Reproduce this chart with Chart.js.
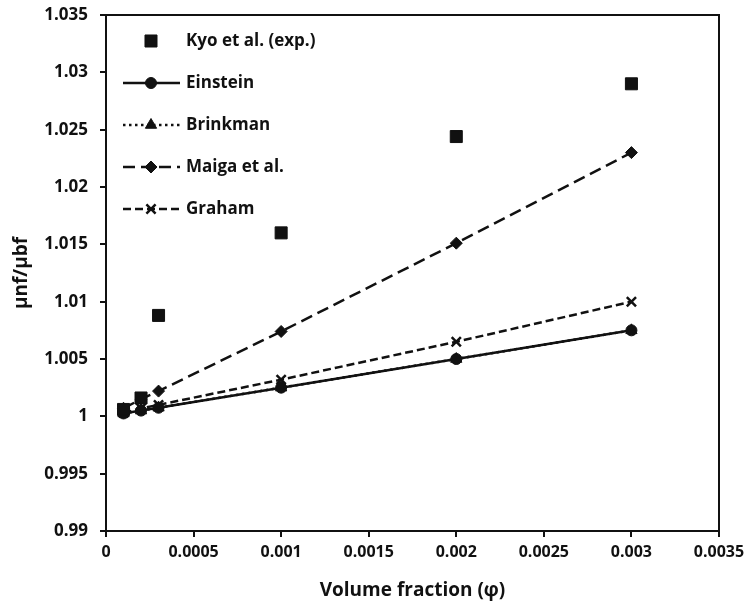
<!DOCTYPE html>
<html>
<head>
<meta charset="utf-8">
<script src="https://cdn.jsdelivr.net/npm/chart.js@4"></script>
<style>
  html, body { margin: 0; padding: 0; background: #fff; }
  #wrap { width: 753px; height: 606px; }
</style>
</head>
<body>
<div id="wrap"><canvas id="chart" width="753" height="606"></canvas></div>
<script>
const phi = [0.0001, 0.0002, 0.0003, 0.001, 0.002, 0.003]
const kyoExp = [1.0006, 1.0016, 1.0088, 1.0160, 1.0244, 1.0290]
const einstein = [1.00025, 1.0005, 1.00075, 1.0025, 1.005, 1.0075]
const brinkman = [1.00025, 1.0005, 1.00075, 1.0025, 1.005, 1.0075]
const maiga = [1.0007, 1.0015, 1.0022, 1.0074, 1.0151, 1.0230]
const graham = [1.0003, 1.0007, 1.0010, 1.0032, 1.0065, 1.0100]

const xTicks = [0, 0.0005, 0.001, 0.0015, 0.002, 0.0025, 0.003, 0.0035]
const yTicks = [0.99, 0.995, 1, 1.005, 1.01, 1.015, 1.02, 1.025, 1.03, 1.035]

const FONT = '"Open Sans", Lato, sans-serif'

function pts(ys) {
  return phi.map((x, i) => ({ x: x, y: ys[i] }))
}

// box round the plot area
const frame = {
  id: 'frame',
  afterDraw(chart) {
    const { ctx, chartArea: a } = chart
    ctx.save()
    ctx.strokeStyle = '#111'
    ctx.lineWidth = 2
    ctx.beginPath()
    ctx.moveTo(a.left, a.top)
    ctx.lineTo(a.right, a.top)
    ctx.lineTo(a.right, a.bottom)
    ctx.stroke()
    ctx.restore()
  }
}

// legend inside the plot, line sample with marker in the middle
const innerLegend = {
  id: 'innerLegend',
  afterDraw(chart) {
    const ctx = chart.ctx
    ctx.save()
    ctx.font = 'bold 17px ' + FONT
    ctx.textBaseline = 'middle'
    chart.data.datasets.forEach((ds, i) => {
      const y = 41 + i * 42
      if (ds.showLine !== false) {
        ctx.strokeStyle = ds.borderColor
        ctx.lineWidth = ds.borderWidth
        ctx.setLineDash(ds.borderDash || [])
        ctx.beginPath()
        ctx.moveTo(123, y)
        ctx.lineTo(180, y)
        ctx.stroke()
        ctx.setLineDash([])
      }
      ctx.fillStyle = ds.pointBackgroundColor
      ctx.strokeStyle = ds.pointBorderColor
      ctx.lineWidth = ds.pointBorderWidth
      Chart.helpers.drawPoint(ctx, {
        pointStyle: ds.pointStyle,
        radius: ds.pointRadius,
        rotation: 0,
        borderWidth: ds.pointBorderWidth
      }, 151, y)
      ctx.fillStyle = '#111'
      ctx.fillText(ds.label, 186, y)
    })
    ctx.restore()
  }
}

function series(label, ys, style, radius, dash, extra) {
  return Object.assign({
    label: label,
    data: pts(ys),
    borderColor: '#111',
    backgroundColor: '#111',
    borderWidth: 2.5,
    borderDash: dash,
    pointStyle: style,
    pointRadius: radius,
    pointHoverRadius: radius,
    pointBackgroundColor: '#111',
    pointBorderColor: '#111',
    pointBorderWidth: 1,
    showLine: true,
    tension: 0
  }, extra || {})
}

new Chart(document.getElementById('chart'), {
  type: 'scatter',
  data: {
    datasets: [
      series('Kyo et al. (exp.)', kyoExp, 'rect', 8.5, [], { showLine: false }),
      series('Einstein', einstein, 'circle', 5.5, []),
      series('Brinkman', brinkman, 'triangle', 6.5, [2.5, 3.5]),
      series('Maiga et al.', maiga, 'rectRot', 6, [12, 6]),
      series('Graham', graham, 'crossRot', 6.5, [8, 4], { pointBorderWidth: 2.5 })
    ]
  },
  options: {
    responsive: false,
    animation: false,
    layout: { padding: { top: 15, right: 34, left: 0, bottom: 0 } },
    plugins: {
      legend: { display: false },
      tooltip: { enabled: false }
    },
    scales: {
      x: {
        type: 'linear',
        min: 0,
        max: 0.0035,
        afterBuildTicks: s => { s.ticks = xTicks.map(v => ({ value: v })) },
        afterFit: s => { s.height = 75 },
        grid: { display: true, drawOnChartArea: false, drawTicks: true, tickLength: 6, color: '#111', lineWidth: 2 },
        border: { display: true, color: '#111', width: 2 },
        ticks: {
          color: '#111',
          padding: 6,
          maxRotation: 0,
          font: { family: FONT, size: 16, weight: 'bold' },
          callback: v => String(v)
        },
        title: {
          display: true,
          text: 'Volume fraction (φ)',
          color: '#111',
          font: { family: FONT, size: 19, weight: 'bold' },
          padding: { top: 2 }
        }
      },
      y: {
        type: 'linear',
        min: 0.99,
        max: 1.035,
        afterBuildTicks: s => { s.ticks = yTicks.map(v => ({ value: v })) },
        afterFit: s => { s.width = 106; s.paddingTop = 0; s.paddingBottom = 0 },
        grid: { display: true, drawOnChartArea: false, drawTicks: true, tickLength: 6, color: '#111', lineWidth: 2 },
        border: { display: true, color: '#111', width: 2 },
        ticks: {
          color: '#111',
          padding: 12,
          font: { family: FONT, size: 17, weight: 'bold' },
          callback: v => String(Math.round(v * 1000) / 1000)
        },
        title: {
          display: true,
          text: 'µnf/µbf',
          color: '#111',
          font: { family: FONT, size: 19, weight: 'bold' },
          padding: { bottom: 0, top: 10 }
        }
      }
    }
  },
  plugins: [frame, innerLegend]
})
</script>
</body>
</html>
